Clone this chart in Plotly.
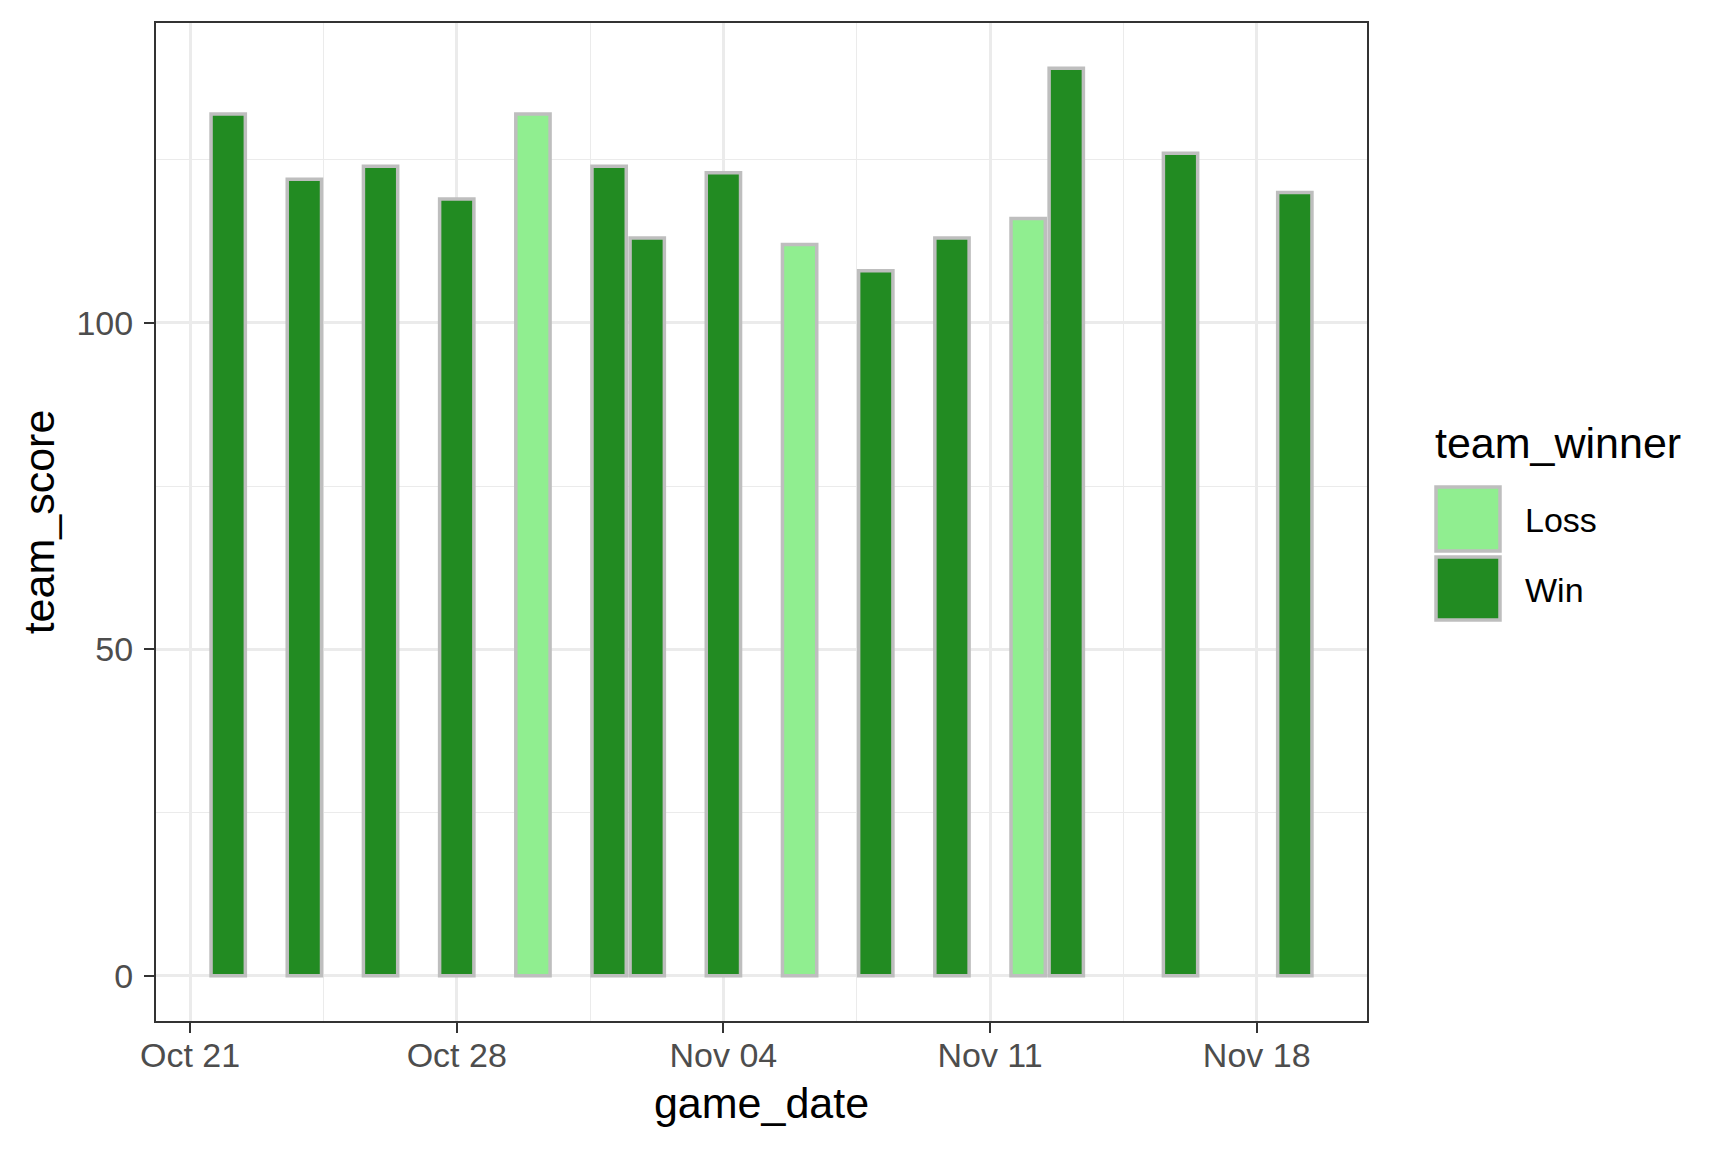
import pandas as pd
import plotly.graph_objects as go

# ---- data ----
game_date = ["2022-10-22", "2022-10-24", "2022-10-26", "2022-10-28", "2022-10-30",
             "2022-11-01", "2022-11-02", "2022-11-04", "2022-11-06", "2022-11-08",
             "2022-11-10", "2022-11-12", "2022-11-13", "2022-11-16", "2022-11-19"]
team_score = [132, 122, 124, 119, 132, 124, 113, 123, 112, 108, 113, 116, 139, 126, 120]
team_winner = ["Win", "Win", "Win", "Win", "Loss", "Win", "Win", "Win", "Loss", "Win",
               "Win", "Loss", "Win", "Win", "Win"]
categories = ["Loss", "Win"]
y_ticks = [0, 50, 100]

fill_colors = {"Loss": "#90EE90", "Win": "#228B22"}
edge_color = "#BEBEBE"
FONT = "Liberation Sans, Arial, sans-serif"

DAY_MS = 86400000
dates = pd.to_datetime(game_date)
df = pd.DataFrame({"game_date": dates, "team_score": team_score, "team_winner": team_winner})

# ggplot-like expanded ranges
bar_w = 0.9
lo = dates.min() - pd.Timedelta(days=bar_w / 2)
hi = dates.max() + pd.Timedelta(days=bar_w / 2)
span = hi - lo
x_range = [lo - span * 0.05, hi + span * 0.05]
ymax = max(team_score)
y_range = [-ymax * 0.05, ymax * 1.05]

fig = go.Figure()
for cat in categories:
    sub = df[df.team_winner == cat]
    fig.add_trace(go.Bar(
        x=sub.game_date, y=sub.team_score, name=cat,
        width=bar_w * DAY_MS,
        marker=dict(color=fill_colors[cat], line=dict(color=edge_color, width=3.5)),
        showlegend=False,
    ))

# layout geometry (pixels); page body adds an 8px offset
OFF = 8
W, H = 1728 - 2 * OFF, 1152 - 2 * OFF
ML, MT = 156 - OFF, 23 - OFF
MR = W - (1367 - OFF)
MB = H - (1021 - OFF)
PW, PH = W - ML - MR, H - MT - MB


def px_x(px):
    return (px - OFF - ML) / PW


def px_y(py):
    return (H - MB - (py - OFF)) / PH


fig.update_layout(
    width=W, height=H,
    margin=dict(l=ML, r=MR, t=MT, b=MB, autoexpand=False),
    paper_bgcolor="white", plot_bgcolor="white",
    barmode="overlay",
    font=dict(family=FONT, color="black"),
    showlegend=False,
)

axis_common = dict(
    showline=True, mirror=True, linecolor="#333333", linewidth=2,
    ticks="outside", ticklen=10, tickwidth=2, tickcolor="#333333",
    tickfont=dict(family=FONT, size=34, color="#4D4D4D"),
    showgrid=True, gridcolor="#EBEBEB", gridwidth=2.7,
    zeroline=False,
)

fig.update_xaxes(
    type="date", range=x_range,
    tick0="2022-10-21", dtick=7 * DAY_MS, tickformat="%b %d",
    minor=dict(tick0="2022-10-21", dtick=3.5 * DAY_MS, showgrid=True,
               gridcolor="#EBEBEB", gridwidth=1.3, ticks=""),
    title=dict(text="game_date", font=dict(family=FONT, size=43, color="black"), standoff=15),
    ticklabelstandoff=-7,
    **axis_common,
)
fig.update_yaxes(
    range=y_range, tickvals=y_ticks, ticktext=[str(v) for v in y_ticks],
    minor=dict(dtick=25, tick0=0, showgrid=True, gridcolor="#EBEBEB", gridwidth=1.3, ticks=""),
    title=dict(text="team_score", font=dict(family=FONT, size=43, color="black"), standoff=8),
    ticklabelstandoff=4,
    **axis_common,
)

# custom legend (ggplot style large keys)
fig.add_annotation(
    x=px_x(1433), y=px_y(443), xref="paper", yref="paper",
    text="team_winner", showarrow=False, xanchor="left", yanchor="middle",
    font=dict(family=FONT, size=43, color="black"),
)
key_rows = [(487, 551, 520), (557, 620, 590)]
for cat, (y0, y1, yc) in zip(categories, key_rows):
    fig.add_shape(
        type="rect", xref="paper", yref="paper",
        x0=px_x(1436), x1=px_x(1500), y0=px_y(y1), y1=px_y(y0),
        fillcolor=fill_colors[cat], line=dict(color=edge_color, width=3.5),
    )
    fig.add_annotation(
        x=px_x(1523), y=px_y(yc), xref="paper", yref="paper",
        text=cat, showarrow=False, xanchor="left", yanchor="middle",
        font=dict(family=FONT, size=34, color="black"),
    )

fig.write_html("out.html")
